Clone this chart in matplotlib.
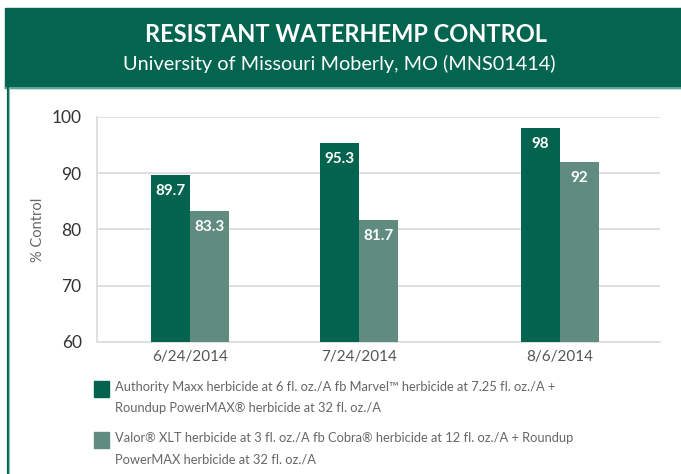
import matplotlib.pyplot as plt
from matplotlib.patches import Rectangle
from matplotlib.lines import Line2D

# chart data
dates = ['6/24/2014', '7/24/2014', '8/6/2014']
authority = [89.7, 95.3, 98]
valor = [83.3, 81.7, 92]
legend_labels = [
    'Authority Maxx herbicide at 6 fl. oz./A fb Marvel\u2122 herbicide at 7.25 fl. oz./A +\nRoundup PowerMAX\u00ae herbicide at 32 fl. oz./A',
    'Valor\u00ae XLT herbicide at 3 fl. oz./A fb Cobra\u00ae herbicide at 12 fl. oz./A + Roundup\nPowerMAX herbicide at 32 fl. oz./A',
]
yticks = [60, 70, 80, 90, 100]

title = 'RESISTANT WATERHEMP CONTROL'
subtitle = 'University of Missouri Moberly, MO (MNS01414)'

DARK = '#02644f'
LIGHT = '#5f8c7f'
FONT = ['Lato', 'DejaVu Sans']

W, H = 681, 474
plt.rcParams['font.family'] = FONT

fig = plt.figure(figsize=(W / 100, H / 100), dpi=100)

# header band and frame lines (pixel coordinates -> figure fraction)
def fx(px):
    return px / W

def fy(py):
    return 1 - py / H

fig.patches.append(Rectangle((fx(5), fy(88)), 1 - fx(5), fy(8) - fy(88),
                             transform=fig.transFigure, color='#03654f', zorder=0))
fig.lines.append(Line2D([fx(5), 1], [fy(87.5), fy(87.5)], transform=fig.transFigure,
                        color='#6fb3a2', lw=1.2))
fig.lines.append(Line2D([fx(7.5), fx(7.5)], [fy(88), 0], transform=fig.transFigure,
                        color='#03654f', lw=1.6))
fig.lines.append(Line2D([fx(9.3), fx(9.3)], [fy(88), 0], transform=fig.transFigure,
                        color='#8fc5b5', lw=0.9))

fig.text(fx(346), fy(34), title, ha='center', va='center', color='white',
         fontsize=17, fontweight='bold')
fig.text(fx(339), fy(64), subtitle, ha='center', va='center', color='white',
         fontsize=14.3)

# plot area
ax = fig.add_axes([fx(97), fy(342), fx(660) - fx(97), fy(117) - fy(342)])
centers = [190, 359, 560]
bw = 39
ax.set_xlim(97, 660)
ax.set_ylim(60, 100)

for i in range(len(dates)):
    ax.bar(centers[i] - bw / 2, authority[i], width=bw, color=DARK, zorder=3, bottom=0)
    ax.bar(centers[i] + bw / 2, valor[i], width=bw, color=LIGHT, zorder=3, bottom=0)
    ax.text(centers[i] - bw / 2, authority[i] - 1.6, f'{authority[i]:g}', ha='center', va='top',
            color='white', fontsize=11, fontweight='bold', zorder=4)
    ax.text(centers[i] + bw / 2, valor[i] - 1.6, f'{valor[i]:g}', ha='center', va='top',
            color='white', fontsize=11, fontweight='bold', zorder=4)

ax.set_yticks(yticks)
ax.set_yticklabels([str(t) for t in yticks], fontsize=12.5, color='#333333')
ax.set_xticks(centers)
ax.set_xticklabels(dates, fontsize=11, color='#555555')
ax.tick_params(axis='both', length=0)
ax.tick_params(axis='y', pad=11)
ax.tick_params(axis='x', pad=6)
ax.grid(axis='y', color='#dddddd', lw=1.3, zorder=0)
for s in ['top', 'right']:
    ax.spines[s].set_visible(False)
ax.spines['left'].set_color('#dddddd')
ax.spines['bottom'].set_color('#dddddd')
ax.spines['left'].set_linewidth(1.3)
ax.spines['bottom'].set_linewidth(1.3)
ax.set_ylabel('% Control', fontsize=10.5, color='#666666', labelpad=5)

# legend drawn by hand under the chart
for i, (lab, col) in enumerate(zip(legend_labels, [DARK, LIGHT])):
    top = 381 + i * 51
    fig.patches.append(Rectangle((fx(94), fy(top + 16)), fx(15), 16 / H,
                                 transform=fig.transFigure, color=col))
    fig.text(fx(115), fy(top), lab, ha='left', va='top', color='#666666',
             fontsize=9.3, linespacing=1.9)

fig.savefig('out.png', dpi=100)
